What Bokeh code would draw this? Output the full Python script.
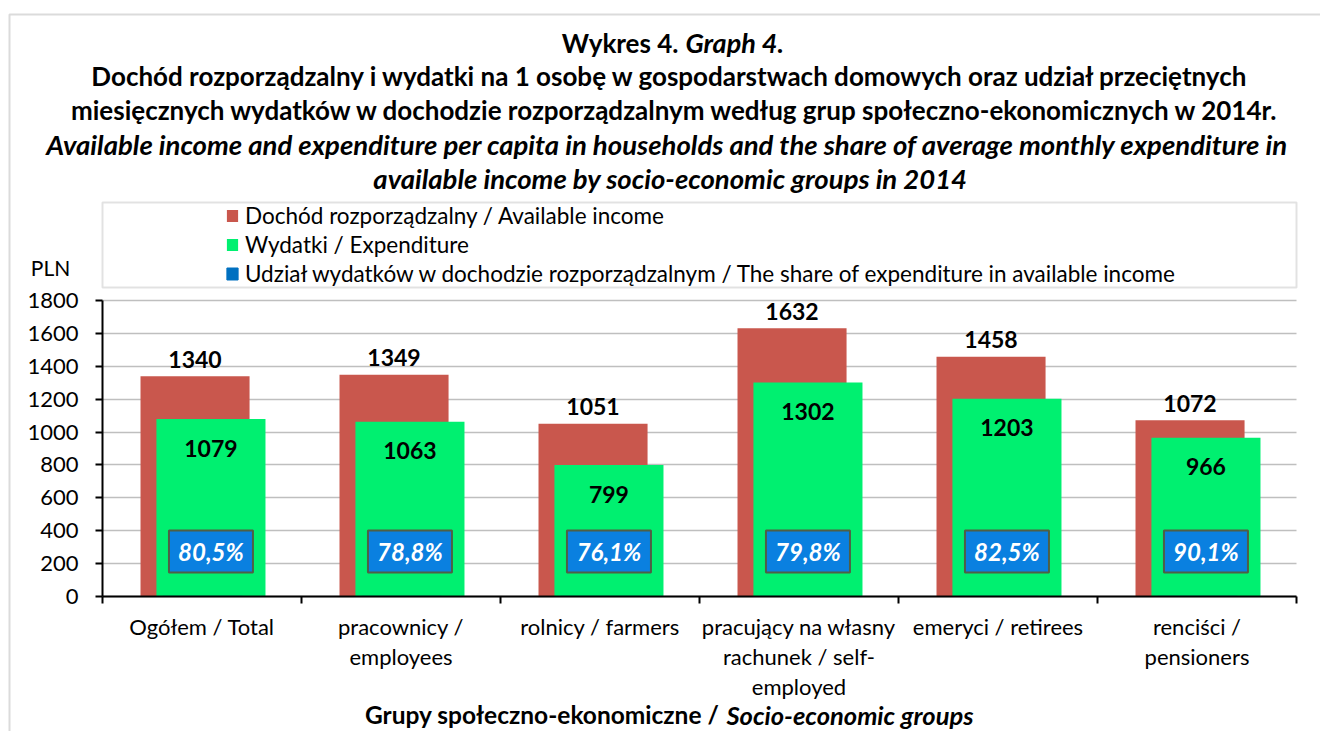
from bokeh.plotting import figure
from bokeh.models import (ColumnDataSource, Range1d, FixedTicker, Label, LabelSet,
                          Legend, LegendItem, BoxAnnotation, LinearAxis, Grid)
from bokeh.core.properties import value
from bokeh.embed import file_html
from bokeh.resources import INLINE

# ---------------- data ----------------
categories = ["Ogółem / Total", "pracownicy /\nemployees", "rolnicy / farmers",
              "pracujący na własny\nrachunek / self-\nemployed", "emeryci / retirees",
              "renciści /\npensioners"]
income = [1340, 1349, 1051, 1632, 1458, 1072]
expenditure = [1079, 1063, 799, 1302, 1203, 966]
share = [80.5, 78.8, 76.1, 79.8, 82.5, 90.1]
y_ticks = [0, 200, 400, 600, 800, 1000, 1200, 1400, 1600, 1800]

series_names = ["Dochód rozporządzalny / Available income",
                "Wydatki / Expenditure",
                "Udział wydatków w dochodzie rozporządzalnym / The share of expenditure in available income"]

# ---------------- layout helpers (canvas pixels -> data) ----------------
W, H = 1320, 731
FL, FR, FT, FB = 102, 1296, 300, 596   # plot-area edges in canvas pixels
YMAX = 1800
NCAT = len(categories)

def dx(px):
    return (px - FL) / (FR - FL) * NCAT

def dy(py):
    return (FB - py) / (FB - FT) * YMAX

FONT = "Lato"
RED = "#C9574D"
GREEN = "#00F070"
BLUE = "#0070C0"
BOX_BLUE = "#0A80E0"

idx = list(range(NCAT))
src = ColumnDataSource(dict(
    xr=[i + 0.465 for i in idx],
    xg=[i + 0.545 for i in idx],
    xb=[i + 0.503 for i in idx],
    income=income,
    expenditure=expenditure,
    share_frac=[s / 100 for s in share],
    income_lbl=[str(v) for v in income],
    exp_lbl=[str(v) for v in expenditure],
    share_lbl=[f"{s:.1f}".replace(".", ",") + "%" for s in share],
    box_y=[dy(551)] * NCAT,
))

p = figure(width=W, height=H, output_backend="svg", toolbar_location=None,
           x_range=Range1d(dx(0), dx(W)), y_range=Range1d(dy(H), dy(0)),
           x_axis_location=None, y_axis_location=None, min_border=0)
p.outline_line_color = None
p.background_fill_color = "white"
p.border_fill_color = "white"
p.xgrid.visible = False
p.ygrid.visible = False

# grid lines (only across the plot area)
try:
    grid = Grid(dimension=1, ticker=FixedTicker(ticks=y_ticks), bounds=(0, YMAX),
                cross_bounds=(0, NCAT), grid_line_color="#BFBFBF", grid_line_width=1.5)
    p.add_layout(grid)
except Exception:
    p.segment(x0=[0] * len(y_ticks), x1=[NCAT] * len(y_ticks), y0=y_ticks, y1=y_ticks,
              line_color="#BFBFBF", line_width=1.5)

# bars
r_red = p.vbar(x="xr", top="income", width=0.548, bottom=0, source=src,
               fill_color=RED, line_color=None)
r_green = p.vbar(x="xg", top="expenditure", width=0.548, bottom=0, source=src,
                 fill_color=GREEN, line_color=None)
r_blue = p.vbar(x="xb", top="share_frac", width=0.40, bottom=0, source=src,
                fill_color=BLUE, line_color=BLUE, line_width=1)

# value labels
p.text(x="xr", y="income", text="income_lbl", source=src, text_font=value(FONT),
       text_font_style="bold", text_font_size="23px", text_align="center",
       text_baseline="middle", y_offset=-17, text_color="black")
p.text(x="xg", y="expenditure", text="exp_lbl", source=src, text_font=value(FONT),
       text_font_style="bold", text_font_size="23px", text_align="center",
       text_baseline="middle", y_offset=29, text_color="black")

# share label boxes
p.rect(x="xg", y="box_y", width=84, height=42, width_units="screen",
       height_units="screen", source=src, fill_color=BOX_BLUE,
       line_color="#4F5F45", line_width=2)
p.text(x="xg", y="box_y", text="share_lbl", source=src, text_font=value(FONT),
       text_font_style="bold italic", text_font_size="24px", text_align="center",
       text_baseline="middle", text_color="white")

# axes at the plot-area edges
yaxis = LinearAxis(fixed_location=0, bounds=(0, YMAX), ticker=FixedTicker(ticks=y_ticks))
yaxis.major_label_text_font = FONT
yaxis.major_label_text_font_size = "22px"
yaxis.major_label_text_color = "black"
yaxis.major_label_standoff = 17
yaxis.major_tick_out = 7
yaxis.major_tick_in = 0
yaxis.minor_tick_line_color = None
yaxis.axis_line_color = "black"
yaxis.axis_line_width = 2
yaxis.major_tick_line_color = "black"
yaxis.major_tick_line_width = 2
p.add_layout(yaxis, "left")

xaxis = LinearAxis(fixed_location=0, bounds=(0, NCAT), ticker=FixedTicker(ticks=list(range(NCAT + 1))))
xaxis.major_label_overrides = {i: "" for i in range(NCAT + 1)}
xaxis.major_label_text_font_size = "0px"
xaxis.major_tick_out = 7
xaxis.major_tick_in = 0
xaxis.minor_tick_line_color = None
xaxis.axis_line_color = "black"
xaxis.axis_line_width = 2
xaxis.major_tick_line_color = "black"
xaxis.major_tick_line_width = 2
p.add_layout(xaxis, "below")

# category labels: each wrapped line centred on its own
cat_lines = [c.split("\n") for c in categories]
for k in range(max(len(l) for l in cat_lines)):
    xs = [i + 0.5 for i, l in enumerate(cat_lines) if len(l) > k]
    ts = [l[k] for l in cat_lines if len(l) > k]
    line_src = ColumnDataSource(dict(x=xs, y=[dy(612 + 30 * k)] * len(xs), t=ts))
    p.add_layout(LabelSet(x="x", y="y", text="t", source=line_src,
                          text_font=value(FONT), text_font_size="22px",
                          text_align="center", text_baseline="top",
                          text_color="black"))

# legend
legend = Legend(items=[LegendItem(label=series_names[0], renderers=[r_red]),
                       LegendItem(label=series_names[1], renderers=[r_green]),
                       LegendItem(label=series_names[2], renderers=[r_blue])],
                location=(225, H - 287), orientation="vertical",
                padding=0, margin=0, spacing=2, glyph_width=14, glyph_height=15,
                label_standoff=6, label_text_font=FONT, label_text_font_size="22.5px",
                label_text_color="black",
                label_height=20, border_line_alpha=0, background_fill_alpha=0)
p.add_layout(legend, "center")
p.add_layout(BoxAnnotation(left=dx(FL), right=dx(FR), top=dy(202), bottom=dy(287),
                           fill_alpha=0, line_color="#A0A0A0", line_width=2))

# outer chart border
p.add_layout(BoxAnnotation(left=dx(9), right=dx(1360), top=dy(14), bottom=dy(780),
                           fill_alpha=0, line_color="#888888", line_width=2))

# titles
def lab(x, y, text, size, style="normal", align="center"):
    p.add_layout(Label(x=dx(x), y=dy(y), text=text, text_font=FONT,
                       text_font_size=size, text_font_style=style,
                       text_align=align, text_baseline="middle", text_color="black"))

lab(678, 42, "Wykres 4.", "26px", "bold", "right")
lab(685, 42, "Graph 4.", "27px", "bold italic", "left")
lab(670, 75, "Dochód rozporządzalny i wydatki na 1 osobę w gospodarstwach domowych oraz udział przeciętnych", "26px", "bold")
lab(675, 109, "miesięcznych wydatków w dochodzie rozporządzalnym według grup społeczno-ekonomicznych w 2014r.", "26px", "bold")
lab(670, 144, "Available income and expenditure per capita in households and the share of  average monthly expenditure in", "27.5px", "bold italic")
lab(670, 178, "available income by socio-economic groups in 2014", "27.5px", "bold italic")
lab(50, 267, "PLN", "21px")
lab(719, 714, "Grupy społeczno-ekonomiczne /", "24.5px", "bold", "right")
lab(726, 714, "Socio-economic groups", "25.5px", "bold italic", "left")

open("out.html", "w").write(file_html(p, INLINE))
